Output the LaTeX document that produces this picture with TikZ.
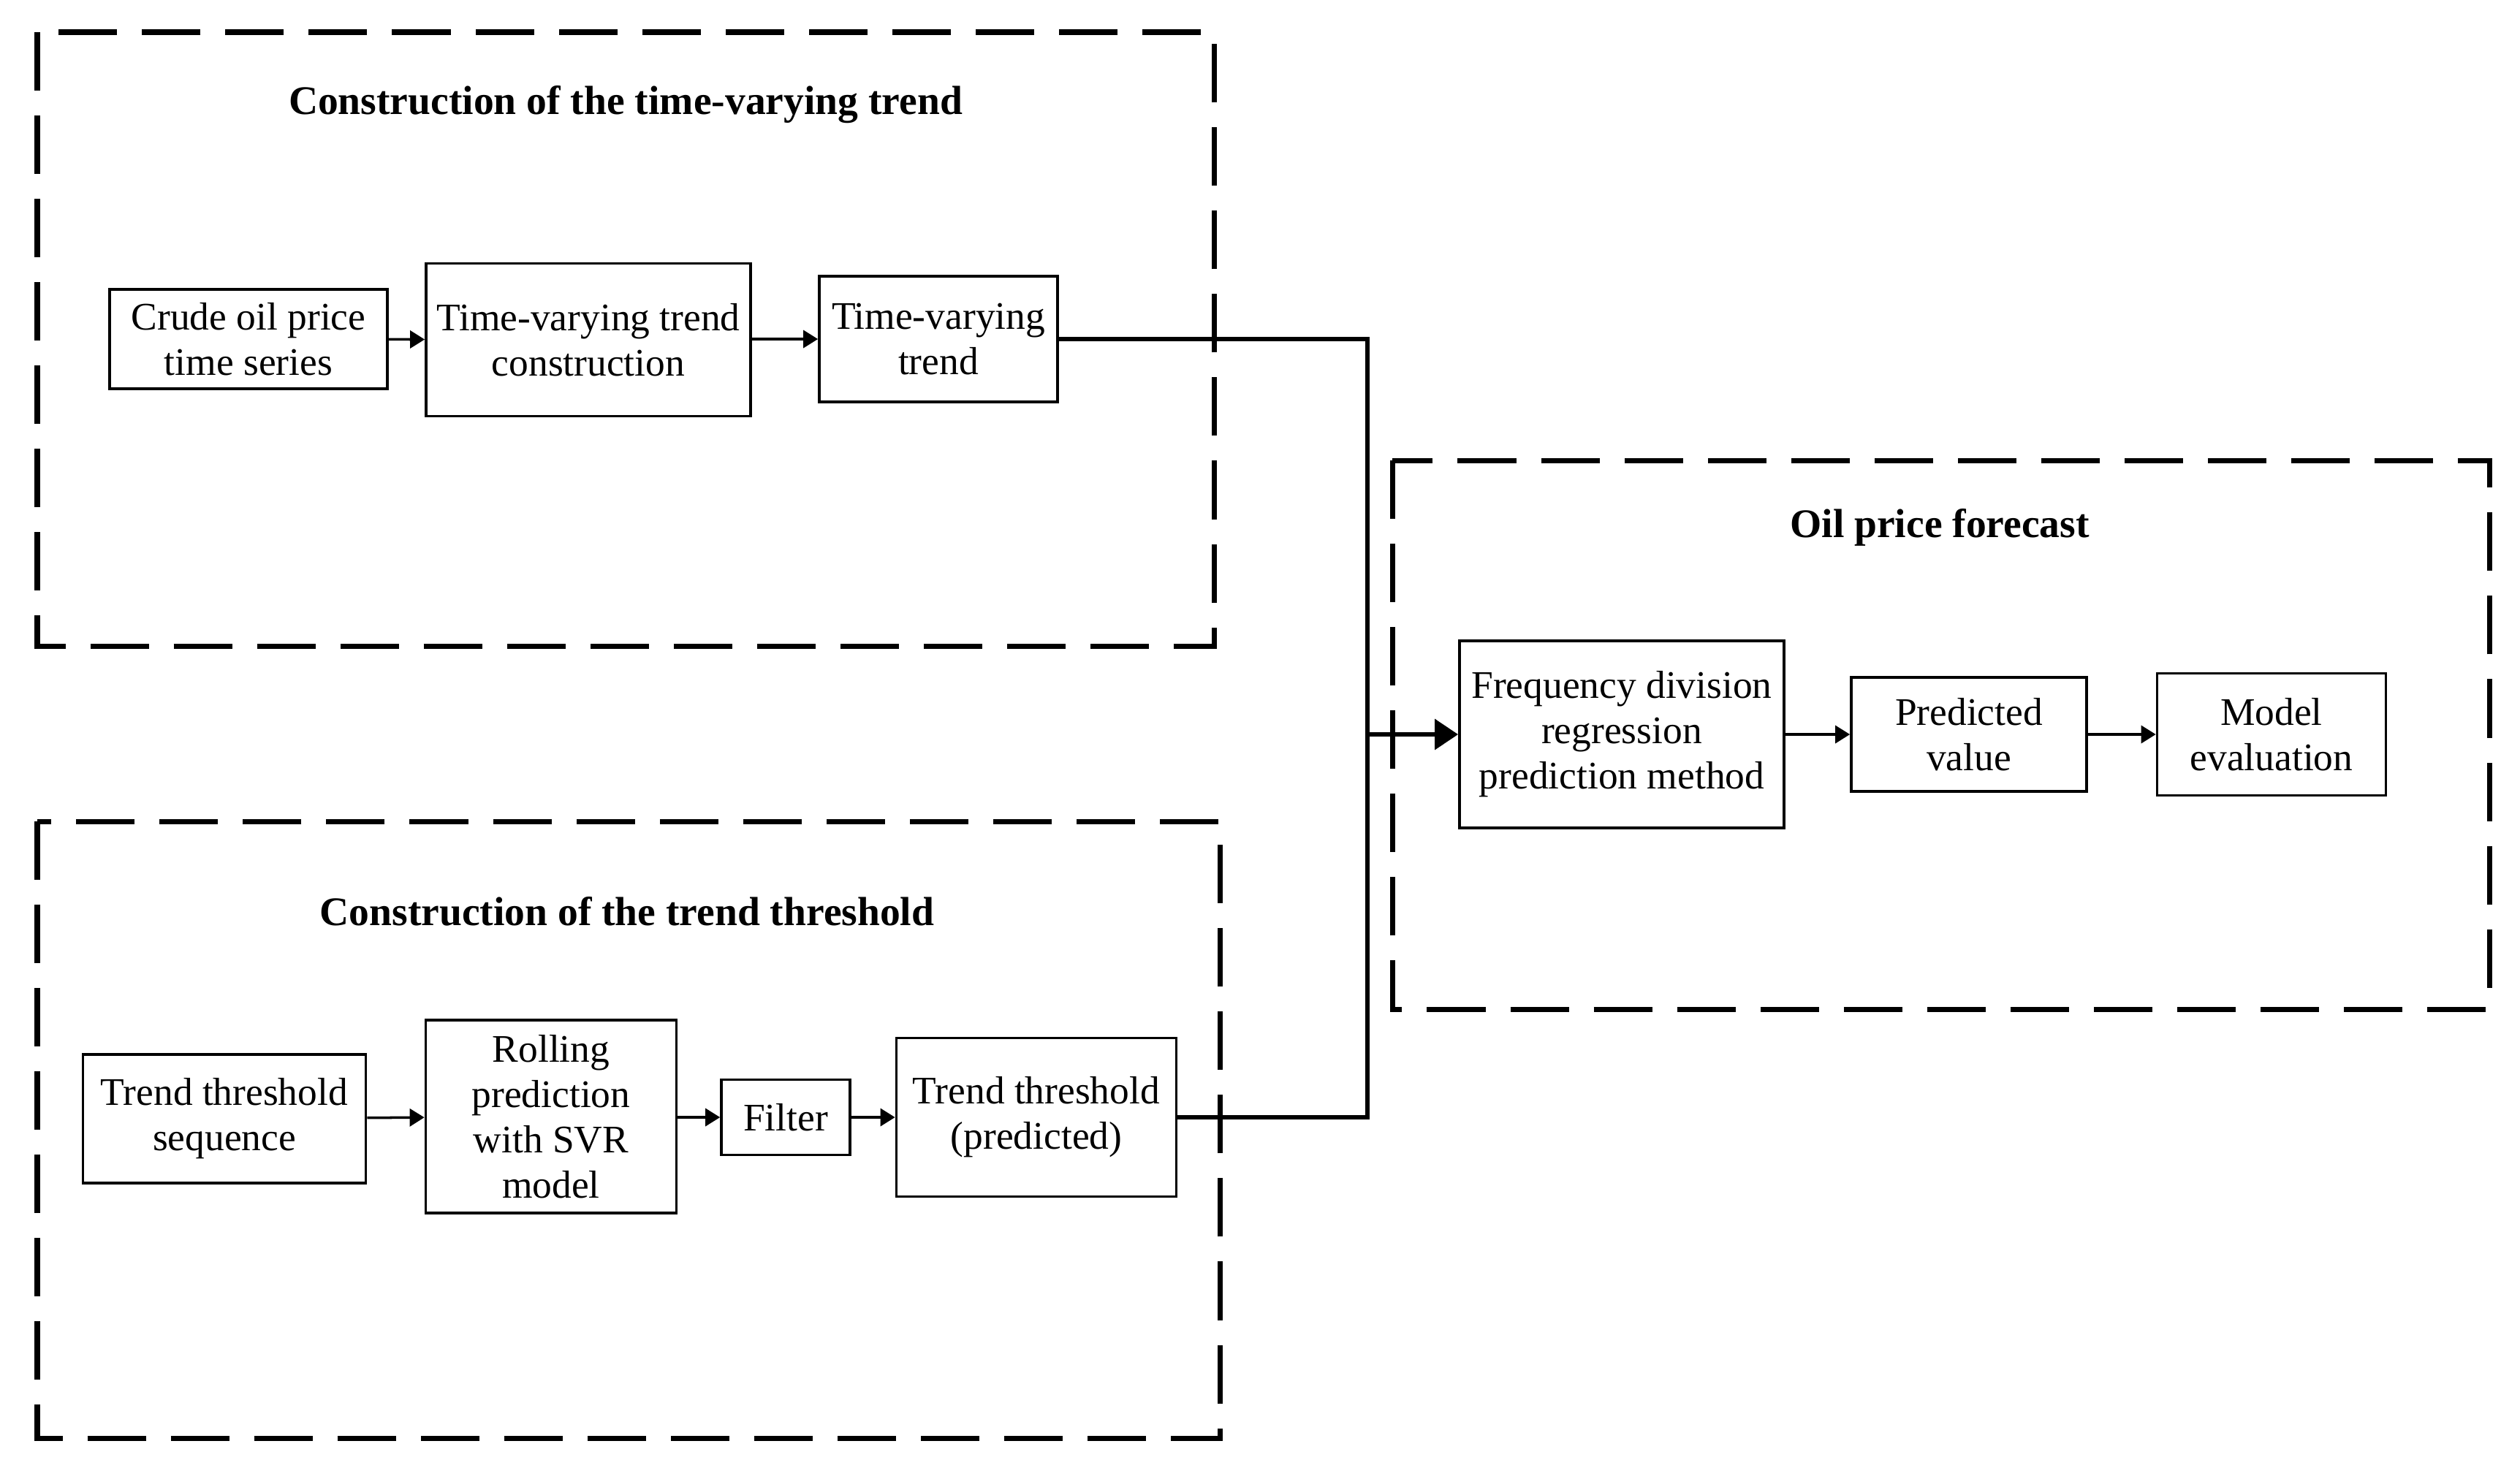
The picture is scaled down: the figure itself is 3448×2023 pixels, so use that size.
\documentclass[tikz,border=0pt]{standalone}
\usepackage{fontspec}
\setmainfont{Liberation Serif}
\usetikzlibrary{arrows.meta}
\begin{document}
\begin{tikzpicture}[x=0.01cm,y=-0.01cm,
  blk/.style={draw, line width=1pt, inner sep=0pt, align=center, font=\fontsize{15.2}{17.6}\selectfont},
  grp/.style={draw, line width=2pt, dash pattern=on 0.8cm off 0.34cm},
  ttl/.style={inner sep=0pt, font=\fontsize{15.8}{17.6}\selectfont\bfseries},
  sarr/.style={line width=1pt, -{Triangle[length=0.2cm,width=0.24cm]}},
  mainline/.style={line width=1.8pt},
  barr/.style={line width=1.8pt, -{Triangle[length=0.32cm,width=0.41cm]}}]
\useasboundingbox (0,0) rectangle (3448,2023);
% group frames
\draw[grp] (51,44) rectangle (1661,884);
\draw[grp] (51,1124) rectangle (1669,1968);
\draw[grp] (1905,630) rectangle (3406,1381);
% titles
\node[ttl] (t1) at (856,143) {Construction of the time-varying trend};
\node[ttl] (t2) at (858,1247) {Construction of the trend threshold};
\node[ttl] (t3) at (2654,722) {Oil price forecast};
% top row
\node[blk, minimum width=3.8cm, minimum height=1.36cm] (crude) at (340,464) {Crude oil price\\time series};
\node[blk, minimum width=4.44cm, minimum height=2.09cm] (tvtc) at (805,465) {Time-varying trend\\construction};
\node[blk, minimum width=3.26cm, minimum height=1.72cm] (tvt) at (1284,464) {Time-varying\\trend};
% bottom row
\node[blk, minimum width=3.87cm, minimum height=1.76cm] (tts) at (307,1531) {Trend threshold\\sequence};
\node[blk, minimum width=3.43cm, minimum height=2.64cm] (roll) at (754,1528) {Rolling\\prediction\\with SVR\\model};
\node[blk, minimum width=1.76cm, minimum height=1.03cm] (filt) at (1075,1529) {Filter};
\node[blk, minimum width=3.83cm, minimum height=2.17cm] (ttp) at (1418,1529) {Trend threshold\\(predicted)};
% right row
\node[blk, minimum width=4.44cm, minimum height=2.56cm] (fd) at (2219,1005) {Frequency division\\regression\\prediction method};
\node[blk, minimum width=3.22cm, minimum height=1.56cm] (pv) at (2694,1005) {Predicted\\value};
\node[blk, minimum width=3.13cm, minimum height=1.67cm] (me) at (3108,1005) {Model\\evaluation};
% arrows
\draw[sarr] (crude) -- (tvtc);
\draw[sarr] (tvtc.east |- tvt.west) -- (tvt.west);
\draw[sarr] (tts) -- (roll);
\draw[sarr] (roll.east |- filt.west) -- (filt.west);
\draw[sarr] (filt) -- (ttp);
\draw[sarr] (fd) -- (pv);
\draw[sarr] (pv) -- (me);
% merge
\coordinate (j) at (1871,1005);
\draw[mainline] (tvt.east) -- (tvt.east -| j) |- (ttp.east);
\draw[barr] (j |- fd.west) -- (fd.west);
\end{tikzpicture}
\end{document}
